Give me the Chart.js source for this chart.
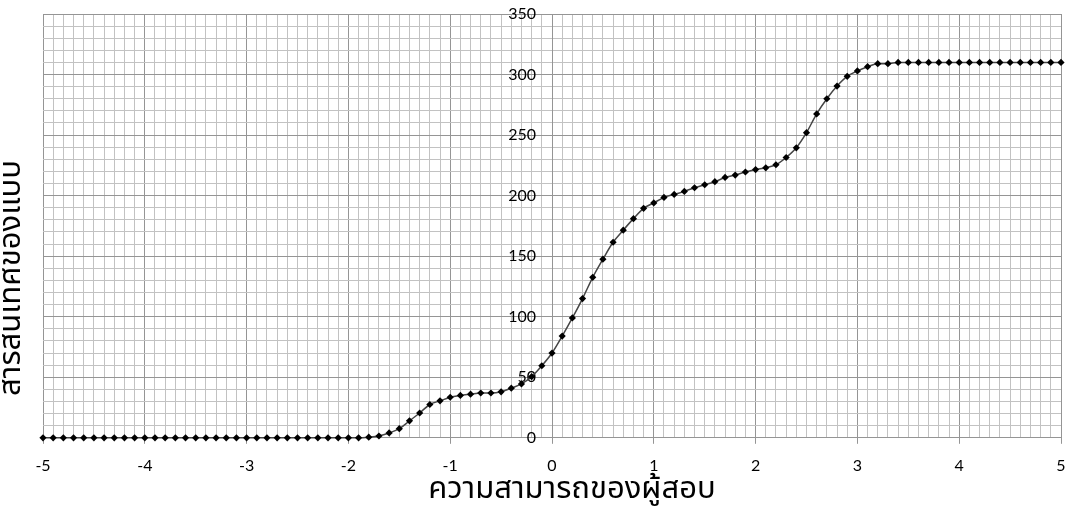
<!DOCTYPE html>
<html>
<head>
<meta charset="utf-8">
<script src="https://cdn.jsdelivr.net/npm/chart.js@4"></script>
<style>
  html, body { margin: 0; padding: 0; background: #fff; }
  #wrap { width: 1071px; height: 508px; }
</style>
</head>
<body>
<div id="wrap"><canvas id="c" width="1071" height="508"></canvas></div>
<script>
// Ability scale (theta)
const theta = [
  -5.0, -4.9, -4.8, -4.7, -4.6, -4.5, -4.4, -4.3, -4.2, -4.1,
  -4.0, -3.9, -3.8, -3.7, -3.6, -3.5, -3.4, -3.3, -3.2, -3.1,
  -3.0, -2.9, -2.8, -2.7, -2.6, -2.5, -2.4, -2.3, -2.2, -2.1,
  -2.0, -1.9, -1.8, -1.7, -1.6, -1.5, -1.4, -1.3, -1.2, -1.1,
  -1.0, -0.9, -0.8, -0.7, -0.6, -0.5, -0.4, -0.3, -0.2, -0.1,
   0.0,  0.1,  0.2,  0.3,  0.4,  0.5,  0.6,  0.7,  0.8,  0.9,
   1.0,  1.1,  1.2,  1.3,  1.4,  1.5,  1.6,  1.7,  1.8,  1.9,
   2.0,  2.1,  2.2,  2.3,  2.4,  2.5,  2.6,  2.7,  2.8,  2.9,
   3.0,  3.1,  3.2,  3.3,  3.4,  3.5,  3.6,  3.7,  3.8,  3.9,
   4.0,  4.1,  4.2,  4.3,  4.4,  4.5,  4.6,  4.7,  4.8,  4.9,
   5.0
];

// Test information function values
const testInformation = [
  0, 0, 0, 0, 0, 0, 0, 0, 0, 0,
  0, 0, 0, 0, 0, 0, 0, 0, 0, 0,
  0, 0, 0, 0, 0, 0, 0, 0, 0, 0,
  0, 0, 0.5, 1.5, 4, 7.5, 14, 20.5, 27.5, 30.5,
  33.5, 35, 36, 37, 37, 38, 41, 44.5, 50.5, 59.5,
  70, 84, 99, 115, 132.5, 147.5, 161.5, 171.5, 181, 189.5,
  194, 198.5, 201, 203.5, 206.5, 209, 211.5, 215, 217, 219.5,
  221.5, 223, 225.5, 231.5, 239.5, 252, 267.5, 280, 290.5, 298.5,
  303, 306.5, 309, 309, 310, 310, 310, 310, 310, 310,
  310, 310, 310, 310, 310, 310, 310, 310, 310, 310,
  310
];

const xTitle = 'ความสามารถของผู้สอบ';
const yTitle = 'สารสนเทศของแบบ';

const MAJOR = '#959595';
const MINOR = '#c2c2c2';
const isWhole = v => Math.abs(v - Math.round(v)) < 1e-6;
const isFifty = v => Math.abs(v / 50 - Math.round(v / 50)) < 1e-6;
const tickFont = { family: 'Lato, "Open Sans", sans-serif', size: 16 };
const thaiFont = '"Noto Sans Thai", "Noto Sans", "DejaVu Sans", sans-serif';

// axis titles painted after the chart
const axisTitles = {
  id: 'axisTitles',
  afterDraw(chart) {
    const ctx = chart.ctx;
    ctx.save();
    ctx.fillStyle = '#000';
    ctx.font = '31px ' + thaiFont;
    ctx.textAlign = 'center';
    ctx.textBaseline = 'middle';
    ctx.fillText(xTitle, 572, 492);
    ctx.translate(14, 278);
    ctx.rotate(-Math.PI / 2);
    ctx.fillText(yTitle, 0, 0);
    ctx.restore();
  }
};

new Chart(document.getElementById('c'), {
  type: 'line',
  data: {
    datasets: [{
      data: theta.map((t, i) => ({ x: t, y: testInformation[i] })),
      borderColor: '#454545',
      borderWidth: 1.5,
      pointStyle: 'rectRot',
      pointRadius: 3.6,
      pointBackgroundColor: '#000',
      pointBorderColor: '#000',
      pointBorderWidth: 0,
      cubicInterpolationMode: 'monotone',
      clip: false
    }]
  },
  options: {
    responsive: false,
    animation: false,
    devicePixelRatio: 1,
    layout: { padding: { left: 43, right: 10, top: 14, bottom: 21 } },
    plugins: { legend: { display: false }, tooltip: { enabled: false } },
    scales: {
      x: {
        type: 'linear',
        min: -5, max: 5,
        position: 'bottom',
        afterFit: s => { s.paddingLeft = 0; s.paddingRight = 0; },
        border: { color: MAJOR, width: 1 },
        grid: {
          color: c => isWhole(c.tick.value) ? MAJOR : MINOR,
          tickColor: c => isWhole(c.tick.value) ? MAJOR : 'rgba(0,0,0,0)',
          tickLength: 6,
          lineWidth: 1
        },
        ticks: {
          stepSize: 0.1,
          autoSkip: false,
          maxRotation: 0,
          padding: 12,
          color: '#000',
          font: tickFont,
          callback: v => isWhole(v) ? String(Math.round(v)) : ''
        }
      },
      y: {
        type: 'linear',
        min: 0, max: 350,
        position: { x: 0 },
        border: { color: MAJOR, width: 1 },
        grid: {
          color: c => isFifty(c.tick.value) ? MAJOR : MINOR,
          drawTicks: false,
          lineWidth: 1
        },
        ticks: {
          stepSize: 10,
          autoSkip: false,
          color: '#000',
          font: tickFont,
          // en spaces keep the labels clear of the axis line
          callback: v => isFifty(v) ? String(Math.round(v)) + '\u2002\u2002' : ''
        }
      }
    }
  },
  plugins: [axisTitles]
});
</script>
</body>
</html>
